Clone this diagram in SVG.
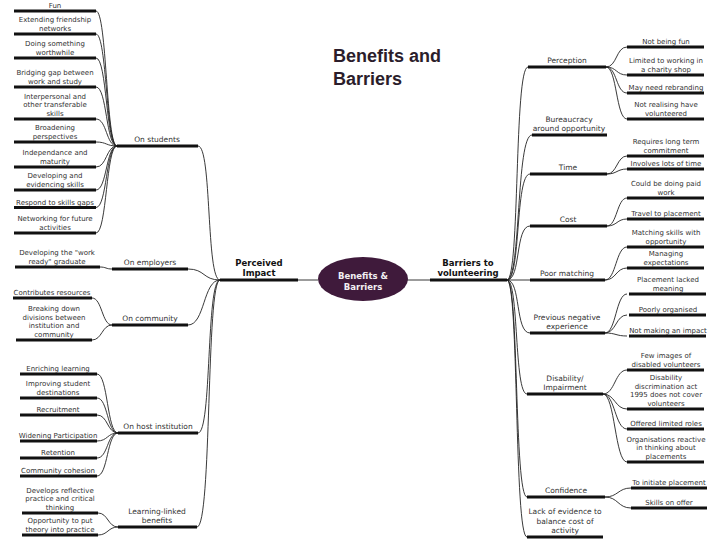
<svg xmlns="http://www.w3.org/2000/svg" width="720" height="540" viewBox="0 0 720 540">
<style>
text{font-family:"DejaVu Sans",Verdana,sans-serif;fill:#333;text-anchor:middle}
.lf{font-size:7px}
.br{font-size:7.5px}
.bd{font-size:8.5px;font-weight:bold;fill:#111}
.ul{stroke:#111;stroke-width:3;fill:none}
.conn path{stroke:#222;stroke-width:0.9;fill:none}
.thin{stroke:#888;stroke-width:1;fill:none}
.title{font-family:"Liberation Sans",Arial,sans-serif;font-size:18px;font-weight:bold;fill:#2b1d2b;text-anchor:start}
</style>
<rect width="720" height="540" fill="#fff"/>
<text class="title" x="333" y="62">Benefits and</text>
<text class="title" x="333" y="85">Barriers</text>

<g id="connectors" class="conn">
<!-- students leaves -->
<path d="M96,11 C107,11 106,146 117,146"/>
<path d="M96,34 C107,34 106,146 117,146"/>
<path d="M96,58 C107,58 106,146 117,146"/>
<path d="M96,87 C107,87 106,146 117,146"/>
<path d="M96,119 C107,119 106,146 117,146"/>
<path d="M96,142 C107,142 106,146 117,146"/>
<path d="M96,167 C107,167 106,146 117,146"/>
<path d="M96,190 C107,190 106,146 117,146"/>
<path d="M96,207.5 C107,207.5 106,146 117,146"/>
<path d="M96,233 C107,233 106,146 117,146"/>
<!-- employers -->
<path d="M100,267 C106,267 106,269 112,269"/>
<!-- community -->
<path d="M92,298 C102,298 102,325 112,325"/>
<path d="M92,340 C102,340 102,325 112,325"/>
<!-- host -->
<path d="M97,374 C108,374 107,433 118,433"/>
<path d="M97,398 C108,398 107,433 118,433"/>
<path d="M97,415 C108,415 107,433 118,433"/>
<path d="M97,441 C108,441 107,433 118,433"/>
<path d="M97,458 C108,458 107,433 118,433"/>
<path d="M97,476 C108,476 107,433 118,433"/>
<!-- learning -->
<path d="M98,513 C108,513 108,527 118,527"/>
<path d="M98,535 C108,535 108,527 118,527"/>
<!-- branches to perceived -->
<path d="M198,146 C212,146 206,280 220,280"/>
<path d="M188,269 C205,269 203,280 220,280"/>
<path d="M188,325 C205,325 203,280 220,280"/>
<path d="M198,433 C212,433 206,280 220,280"/>
<path d="M197,527 C212,527 206,280 220,280"/>
<!-- center -->
<path class="thin" d="M298,280 L318,280"/>
<path class="thin" d="M407,280 L430,280"/>
<!-- barriers to branches -->
<path d="M507,280 C520,280 514,67 528,67"/>
<path d="M507,280 C521,280 516,135 532,135"/>
<path d="M507,280 C521,280 515,174 530,174"/>
<path d="M507,280 C521,280 515,226 530,226"/>
<path d="M507,280 L530,280"/>
<path d="M507,280 C521,280 515,333 530,333"/>
<path d="M507,280 C519,280 514,394 527,394"/>
<path d="M507,280 C519,280 514,497 527,497"/>
<path d="M507,280 C519,280 514,537 527,537"/>
<!-- perception -->
<path d="M606,67 C617,67 616,47 627,47"/>
<path d="M606,67 C617,67 616,75 627,75"/>
<path d="M606,67 C617,67 616,93 627,93"/>
<path d="M606,67 C617,67 616,119 627,119"/>
<!-- time -->
<path d="M607,174 C617,174 617,156 627,156"/>
<path d="M607,174 C617,174 617,169 627,169"/>
<!-- cost -->
<path d="M607,226 C617,226 617,198 627,198"/>
<path d="M607,226 C617,226 617,219 627,219"/>
<!-- poor matching -->
<path d="M605,280 C616,280 616,247 627,247"/>
<path d="M605,280 C616,280 616,268 627,268"/>
<!-- previous -->
<path d="M605,333 C616,333 616,294 627,294"/>
<path d="M605,333 C616,333 616,315 627,315"/>
<path d="M605,333 C616,333 616,336 627,336"/>
<!-- disability -->
<path d="M603,394 C615,394 615,370 627,370"/>
<path d="M603,394 C615,394 615,409 627,409"/>
<path d="M603,394 C615,394 615,429 627,429"/>
<path d="M603,394 C615,394 615,462 627,462"/>
<!-- confidence -->
<path d="M605,497 C618,497 618,488 631,488"/>
<path d="M605,497 C618,497 618,508 631,508"/>
</g>

<!-- central -->
<g id="center">
<ellipse cx="363" cy="279" rx="45" ry="22" fill="#3f1a3b"/>
<text class="bd" x="363" y="279" style="fill:#f2eef2">Benefits &amp;</text>
<text class="bd" x="363" y="289.5" style="fill:#f2eef2">Barriers</text>
</g>
<g id="perceived-impact">
<text class="bd" x="259" y="266">Perceived</text>
<text class="bd" x="259" y="276">Impact</text>
<path class="ul" d="M220,280 H298"/>
</g>
<g id="barriers-to-volunteering">
<text class="bd" x="468" y="266">Barriers to</text>
<text class="bd" x="468" y="276">volunteering</text>
<path class="ul" d="M430,280 H507"/>
</g>

<!-- left branches -->
<g id="on-students"><text class="br" x="157" y="142">On students</text><path class="ul" d="M117,146 H198"/></g>
<g id="on-employers"><text class="br" x="150" y="265">On employers</text><path class="ul" d="M112,269 H188"/></g>
<g id="on-community"><text class="br" x="150" y="321">On community</text><path class="ul" d="M112,325 H188"/></g>
<g id="on-host"><text class="br" x="158" y="429">On host institution</text><path class="ul" d="M118,433 H198"/></g>
<g id="learning-linked"><text class="br" x="157" y="513.5">Learning-linked</text><text class="br" x="157" y="523">benefits</text><path class="ul" d="M118,527 H197"/></g>

<!-- left leaves -->
<g id="fun"><text class="lf" x="55" y="7.5">Fun</text><path class="ul" d="M14,11 H96"/></g>
<g id="extending"><text class="lf" x="55" y="22">Extending friendship</text><text class="lf" x="55" y="30.5">networks</text><path class="ul" d="M14,34 H96"/></g>
<g id="doing"><text class="lf" x="55" y="46">Doing something</text><text class="lf" x="55" y="54.5">worthwhile</text><path class="ul" d="M14,58 H96"/></g>
<g id="bridging"><text class="lf" x="55" y="75">Bridging gap between</text><text class="lf" x="55" y="83.5">work and study</text><path class="ul" d="M14,87 H96"/></g>
<g id="interpersonal"><text class="lf" x="55" y="98.5">Interpersonal and</text><text class="lf" x="55" y="107">other transferable</text><text class="lf" x="55" y="115.5">skills</text><path class="ul" d="M14,119 H96"/></g>
<g id="broadening"><text class="lf" x="55" y="130">Broadening</text><text class="lf" x="55" y="138.5">perspectives</text><path class="ul" d="M14,142 H96"/></g>
<g id="independance"><text class="lf" x="55" y="155">Independance and</text><text class="lf" x="55" y="163.5">maturity</text><path class="ul" d="M14,167 H96"/></g>
<g id="developing-skills"><text class="lf" x="55" y="178">Developing and</text><text class="lf" x="55" y="186.5">evidencing skills</text><path class="ul" d="M14,190 H96"/></g>
<g id="respond"><text class="lf" x="55" y="204.5">Respond to skills gaps</text><path class="ul" d="M14,207.5 H96"/></g>
<g id="networking"><text class="lf" x="55" y="221">Networking for future</text><text class="lf" x="55" y="229.5">activities</text><path class="ul" d="M14,233 H96"/></g>
<g id="work-ready"><text class="lf" x="57" y="255">Developing the &quot;work</text><text class="lf" x="57" y="263.5">ready&quot; graduate</text><path class="ul" d="M15,267 H100"/></g>
<g id="contributes"><text class="lf" x="52" y="294.5">Contributes resources</text><path class="ul" d="M13,298 H92"/></g>
<g id="breaking"><text class="lf" x="54" y="311">Breaking down</text><text class="lf" x="54" y="319.5">divisions between</text><text class="lf" x="54" y="328">institution and</text><text class="lf" x="54" y="336.5">community</text><path class="ul" d="M16,340 H92"/></g>
<g id="enriching"><text class="lf" x="58" y="370.5">Enriching learning</text><path class="ul" d="M20,374 H97"/></g>
<g id="improving"><text class="lf" x="58" y="386">Improving student</text><text class="lf" x="58" y="394.5">destinations</text><path class="ul" d="M20,398 H97"/></g>
<g id="recruitment"><text class="lf" x="58" y="411.5">Recruitment</text><path class="ul" d="M20,415 H97"/></g>
<g id="widening"><text class="lf" x="58" y="437.5">Widening Participation</text><path class="ul" d="M20,441 H97"/></g>
<g id="retention"><text class="lf" x="58" y="454.5">Retention</text><path class="ul" d="M20,458 H97"/></g>
<g id="cohesion"><text class="lf" x="58" y="472.5">Community cohesion</text><path class="ul" d="M20,476 H97"/></g>
<g id="reflective"><text class="lf" x="60" y="492.5">Develops reflective</text><text class="lf" x="60" y="501">practice and critical</text><text class="lf" x="60" y="509.5">thinking</text><path class="ul" d="M22,513 H98"/></g>
<g id="opportunity"><text class="lf" x="60" y="523">Opportunity to put</text><text class="lf" x="60" y="531.5">theory into practice</text><path class="ul" d="M22,535 H98"/></g>

<!-- right branches -->
<g id="perception"><text class="br" x="567" y="63">Perception</text><path class="ul" d="M528,67 H606"/></g>
<g id="bureaucracy"><text class="br" x="569" y="121.5">Bureaucracy</text><text class="br" x="569" y="131">around opportunity</text><path class="ul" d="M532,135 H607"/></g>
<g id="time"><text class="br" x="568" y="170">Time</text><path class="ul" d="M530,174 H607"/></g>
<g id="cost"><text class="br" x="568" y="222">Cost</text><path class="ul" d="M530,226 H607"/></g>
<g id="poor-matching"><text class="br" x="567" y="276">Poor matching</text><path class="ul" d="M530,280 H605"/></g>
<g id="previous"><text class="br" x="567" y="319.5">Previous negative</text><text class="br" x="567" y="329">experience</text><path class="ul" d="M530,333 H605"/></g>
<g id="disability"><text class="br" x="565" y="380.5">Disability/</text><text class="br" x="565" y="390">Impairment</text><path class="ul" d="M527,394 H603"/></g>
<g id="confidence"><text class="br" x="566" y="493">Confidence</text><path class="ul" d="M527,497 H605"/></g>
<g id="lack-evidence"><text class="br" x="565" y="514">Lack of evidence to</text><text class="br" x="565" y="523.5">balance cost of</text><text class="br" x="565" y="533">activity</text><path class="ul" d="M527,537 H603"/></g>

<!-- right leaves -->
<g id="not-fun"><text class="lf" x="666" y="43.5">Not being fun</text><path class="ul" d="M627,47 H704"/></g>
<g id="charity"><text class="lf" x="666" y="63">Limited to working in</text><text class="lf" x="666" y="71.5">a charity shop</text><path class="ul" d="M627,75 H704"/></g>
<g id="rebranding"><text class="lf" x="666" y="89.5">May need rebranding</text><path class="ul" d="M627,93 H704"/></g>
<g id="not-realising"><text class="lf" x="666" y="107">Not realising have</text><text class="lf" x="666" y="115.5">volunteered</text><path class="ul" d="M627,119 H704"/></g>
<g id="long-term"><text class="lf" x="666" y="144">Requires long term</text><text class="lf" x="666" y="152.5">commitment</text><path class="ul" d="M627,156 H704"/></g>
<g id="lots-time"><text class="lf" x="666" y="165.5">Involves lots of time</text><path class="ul" d="M627,169 H704"/></g>
<g id="paid-work"><text class="lf" x="666" y="186">Could be doing paid</text><text class="lf" x="666" y="194.5">work</text><path class="ul" d="M627,198 H704"/></g>
<g id="travel"><text class="lf" x="666" y="215.5">Travel to placement</text><path class="ul" d="M627,219 H704"/></g>
<g id="matching"><text class="lf" x="666" y="235">Matching skills with</text><text class="lf" x="666" y="243.5">opportunity</text><path class="ul" d="M627,247 H704"/></g>
<g id="expectations"><text class="lf" x="666" y="256">Managing</text><text class="lf" x="666" y="264.5">expectations</text><path class="ul" d="M627,268 H704"/></g>
<g id="lacked-meaning"><text class="lf" x="668" y="282">Placement lacked</text><text class="lf" x="668" y="290.5">meaning</text><path class="ul" d="M629,294 H706"/></g>
<g id="poorly"><text class="lf" x="668" y="311.5">Poorly organised</text><path class="ul" d="M629,315 H706"/></g>
<g id="impact"><text class="lf" x="668" y="332.5">Not making an impact</text><path class="ul" d="M629,336 H706"/></g>
<g id="few-images"><text class="lf" x="666" y="358">Few images of</text><text class="lf" x="666" y="366.5">disabled volunteers</text><path class="ul" d="M627,370 H704"/></g>
<g id="dda"><text class="lf" x="666" y="380">Disability</text><text class="lf" x="666" y="388.5">discrimination act</text><text class="lf" x="666" y="397">1995 does not cover</text><text class="lf" x="666" y="405.5">volunteers</text><path class="ul" d="M627,409 H704"/></g>
<g id="limited-roles"><text class="lf" x="666" y="425.5">Offered limited roles</text><path class="ul" d="M627,429 H704"/></g>
<g id="reactive"><text class="lf" x="666" y="441.5">Organisations reactive</text><text class="lf" x="666" y="450">in thinking about</text><text class="lf" x="666" y="458.5">placements</text><path class="ul" d="M627,462 H704"/></g>
<g id="initiate"><text class="lf" x="669" y="484.5">To initiate placement</text><path class="ul" d="M631,488 H707"/></g>
<g id="skills-offer"><text class="lf" x="669" y="504.5">Skills on offer</text><path class="ul" d="M631,508 H707"/></g>
</svg>
